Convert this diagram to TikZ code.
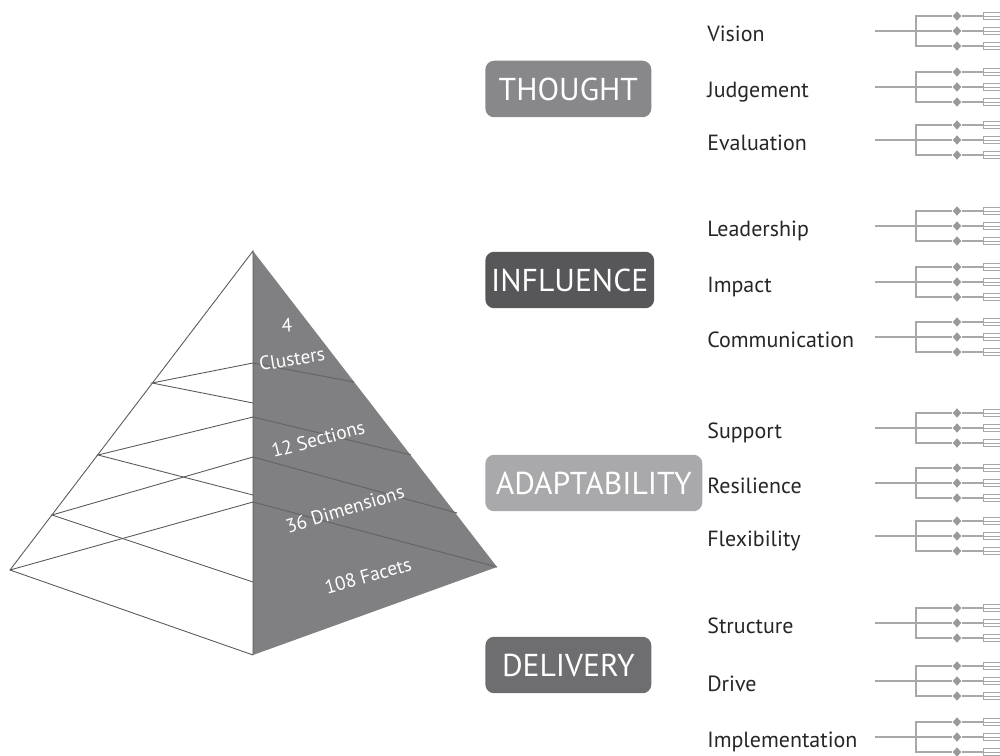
\documentclass[tikz,border=0pt]{standalone}
\usepackage{fontspec}
\setmainfont{PT Sans}
\usetikzlibrary{shapes.geometric}

\definecolor{facegray}{HTML}{808083}
\definecolor{thoughtgray}{HTML}{88888B}
\definecolor{influencegray}{HTML}{575759}
\definecolor{adaptgray}{HTML}{A9A9AB}
\definecolor{deliverygray}{HTML}{6E6E70}
\definecolor{twiggray}{HTML}{A8A8A8}
\definecolor{knotgray}{HTML}{9A9A9A}

\begin{document}
\begin{tikzpicture}[x=0.02cm,y=-0.02cm,
    cat/.style={rectangle,rounded corners=5pt,text=white,anchor=west,minimum width=3.32cm,minimum height=1.13cm,font=\fontsize{18}{18}\selectfont},
    item/.style={anchor=base west,inner sep=0pt,text=black!85,font=\fontsize{12.5}{13}\selectfont},
    twig/.style={draw=twiggray,line width=0.7pt},
    knot/.style={diamond,fill=knotgray,inner sep=0pt,minimum width=5pt,minimum height=5.5pt},
    leaf/.style={rectangle,draw=twiggray,fill=white,anchor=west,inner sep=0pt,minimum width=1cm,minimum height=4pt,line width=0.6pt,
        path picture={\draw[twiggray,line width=0.5pt] (path picture bounding box.west) -- (path picture bounding box.east);}},
    edge/.style={draw=black!65,line width=0.5pt},
    facelbl/.style={text=white,font=\fontsize{11}{11}\selectfont}]

\useasboundingbox (0,0) rectangle (1000,756);

% pyramid
\coordinate (apex)  at (253,251);
\coordinate (left)  at (10,570);
\coordinate (front) at (253,655);
\coordinate (right) at (497,567);
\coordinate (c1) at (253,363);
\coordinate (c2) at (253,403);
\coordinate (c3) at (253,417);
\coordinate (c4) at (253,457);
\coordinate (c5) at (253,495);
\coordinate (c6) at (253,502);
\coordinate (c7) at (253,582);
\coordinate (l1) at (152,383);
\coordinate (l2) at (98,455);
\coordinate (l3) at (52,515);
\coordinate (r1) at (354,382);
\coordinate (r2) at (411,455);
\coordinate (r3) at (457,513);
\fill [facegray] (apex) -- (right) -- (front) -- cycle;
\draw [edge] (front) -- (left) -- (apex) -- (front);
\draw [edge] (c1) -- (l1) -- (c2);
\draw [edge] (c3) -- (l2) -- (c5);
\draw [edge] (c4) -- (l3) -- (c7);
\draw [edge] (c6) -- (left);
\draw [edge,draw=black!60,line width=0.6pt] (c1) -- (r1);
\draw [edge,draw=black!60,line width=0.6pt] (c3) -- (r2);
\draw [edge,draw=black!60,line width=0.6pt] (c4) -- (r3);
\draw [edge,draw=black!60,line width=0.6pt] (c6) -- (right);
\node (clusternum) at (287,325) [facelbl,rotate=4] {4};
\node (clusters) at (292,359) [facelbl,rotate=9] {Clusters};
\node (sections) at (318,439) [facelbl,rotate=15] {12 Sections};
\node (dimensions) at (345,509) [facelbl,rotate=17] {36 Dimensions};
\node (facets) at (368,576) [facelbl,rotate=16] {108 Facets};

% clusters
\node (thought)   at (485,89)  [cat,fill=thoughtgray]   {THOUGHT};
\node (influence) at (485,280) [cat,fill=influencegray] {INFLUENCE};
\node (adapt)     at (485,483) [cat,fill=adaptgray,minimum width=4.34cm] {ADAPTABILITY};
\node (delivery)  at (485,665) [cat,fill=deliverygray]  {DELIVERY};

% sections and their facets
\foreach \n/\t/\y in {vision/Vision/31, judgement/Judgement/87, evaluation/Evaluation/140,
    leadership/Leadership/226, impact/Impact/282, communication/Communication/337,
    support/Support/428, resilience/Resilience/483, flexibility/Flexibility/536,
    structure/Structure/623, drive/Drive/681, implementation/Implementation/737}
{
    \node (\n) at (707,\y+10.5) [item] {\t};
    \coordinate (\n-in) at (875,\y);
    \coordinate (\n-fork) at (916,\y);
    \node (\n-l1) at (983,\y-15) [leaf] {};
    \node (\n-l2) at (983,\y) [leaf] {};
    \node (\n-l3) at (983,\y+15) [leaf] {};
    \node (\n-k1) at (957,\y-15) [knot] {};
    \node (\n-k2) at (957,\y) [knot] {};
    \node (\n-k3) at (957,\y+15) [knot] {};
    \draw [twig] (\n-in) -- (\n-k2);
    \draw [twig] (\n-k1) -| (\n-fork) |- (\n-k3);
    \draw [twig] (\n-k1) -- (\n-l1);
    \draw [twig] (\n-k2) -- (\n-l2);
    \draw [twig] (\n-k3) -- (\n-l3);
}
\end{tikzpicture}
\end{document}
